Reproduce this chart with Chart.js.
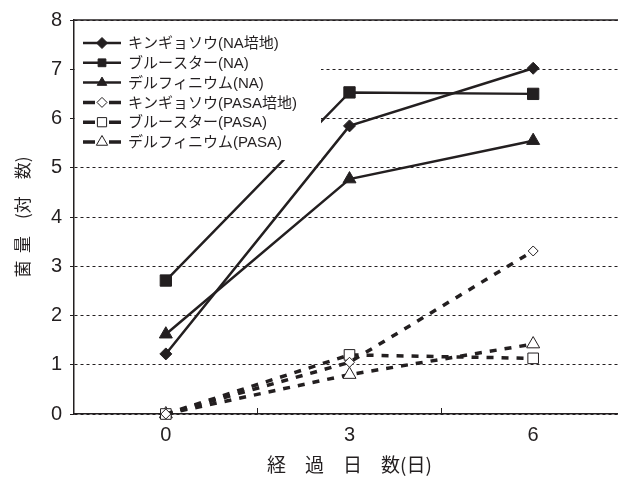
<!DOCTYPE html>
<html>
<head>
<meta charset="utf-8">
<script src="https://cdn.jsdelivr.net/npm/chart.js@4.4.0/dist/chart.umd.min.js"></script>
<style>
  body { margin: 0; overflow: hidden; background: #fff; }
  #wrap { width: 625px; height: 477px; }
</style>
</head>
<body>
<div id="wrap"><canvas id="myChart" width="625" height="477"></canvas></div>
<script>
// days (x categories)
const days = ["0", "3", "6"];
const yTicks = [0, 1, 2, 3, 4, 5, 6, 7, 8];

// NA medium
const kingyoNA = [1.22, 5.85, 7.02];
const blueNA = [2.71, 6.53, 6.50];
const delphNA = [1.62, 4.77, 5.55];
// PASA medium
const kingyoPASA = [0, 1.05, 3.31];
const bluePASA = [0, 1.20, 1.13];
const delphPASA = [0, 0.80, 1.42];

const seriesNames = [
    "キンギョソウ(NA培地)",
    "ブルースター(NA)",
    "デルフィニウム(NA)",
    "キンギョソウ(PASA培地)",
    "ブルースター(PASA)",
    "デルフィニウム(PASA)"
];

const ink = "#231f20";

function solidSet(label, data, style, r) {
    return {
        label: label, data: data,
        borderColor: ink, borderWidth: 2.5,
        pointStyle: style, pointRadius: r, pointHoverRadius: r,
        pointBackgroundColor: ink, pointBorderColor: ink, pointBorderWidth: 1,
        legendRadius: 5.5, dashed: false,
        tension: 0, clip: false
    };
}
function dashSet(label, data, style, r, lr) {
    return {
        label: label, data: data,
        borderColor: ink, borderWidth: 3.5, borderDash: [7, 8],
        pointStyle: style, pointRadius: r, pointHoverRadius: r,
        pointBackgroundColor: "#fff", pointBorderColor: ink, pointBorderWidth: 1,
        legendRadius: lr, dashed: true,
        tension: 0, clip: false
    };
}

// legend drawn inside the plot, covering the lines under it
const boxLegend = {
    id: "boxLegend",
    afterDatasetsDraw(chart) {
        const ctx = chart.ctx;
        const a = chart.chartArea;
        ctx.save();
        ctx.fillStyle = "#fff";
        ctx.fillRect(a.left + 1, a.top + 1, 320 - a.left, 139);
        chart.data.datasets.forEach(function (ds, i) {
            const y = a.top + 23 + i * 19.8;
            ctx.strokeStyle = ink;
            ctx.lineWidth = ds.dashed ? 3.5 : 2.5;
            ctx.setLineDash(ds.dashed ? [12, 14] : []);
            ctx.beginPath();
            ctx.moveTo(83, y);
            ctx.lineTo(121, y);
            ctx.stroke();
            ctx.setLineDash([]);
            ctx.fillStyle = ds.pointBackgroundColor;
            ctx.lineWidth = 1;
            Chart.helpers.drawPoint(ctx, {
                pointStyle: ds.pointStyle, rotation: 0,
                radius: ds.legendRadius, borderWidth: 1
            }, 102, y);
            ctx.fillStyle = ink;
            ctx.font = "15px 'Liberation Sans', 'Noto Sans CJK JP'";
            ctx.textBaseline = "middle";
            ctx.textAlign = "left";
            ctx.fillText(ds.label, 128, y + 1);
        });
        // top frame line of the plot
        ctx.strokeStyle = ink;
        ctx.lineWidth = 1.5;
        ctx.beginPath();
        ctx.moveTo(a.left, a.top);
        ctx.lineTo(a.right, a.top);
        ctx.stroke();
        ctx.restore();
    }
};

const config = {
    type: "line",
    data: {
        labels: days,
        datasets: [
            solidSet(seriesNames[0], kingyoNA, "rectRot", 6),
            solidSet(seriesNames[1], blueNA, "rect", 8),
            solidSet(seriesNames[2], delphNA, "triangle", 7.5),
            dashSet(seriesNames[3], kingyoPASA, "rectRot", 5, 5),
            dashSet(seriesNames[4], bluePASA, "rect", 7.5, 6.5),
            dashSet(seriesNames[5], delphPASA, "triangle", 7.5, 6.5)
        ]
    },
    options: {
        responsive: false,
        animation: false,
        layout: { autoPadding: false, padding: { top: 20, right: 0, left: 0, bottom: 0 } },
        plugins: {
            legend: { display: false },
            tooltip: { enabled: false }
        },
        scales: {
            x: {
                type: "category",
                offset: true,
                grid: {
                    offset: true,
                    drawOnChartArea: false,
                    drawTicks: true,
                    tickLength: -6,
                    tickColor: ink,
                    tickWidth: 1
                },
                border: { display: true, color: ink, width: 1.5 },
                ticks: {
                    color: ink,
                    padding: 15,
                    font: { family: "'Liberation Sans'", size: 20 }
                },
                title: {
                    display: true,
                    text: "経　過　日　数(日)",
                    color: ink,
                    padding: { top: 0, bottom: 1 },
                    font: { family: "'Noto Sans CJK JP'", size: 19 }
                },
                afterFit(scale) { scale.height = 63; }
            },
            y: {
                min: 0,
                max: 8,
                afterBuildTicks(scale) {
                    scale.ticks = yTicks.map(function (v) { return { value: v }; });
                },
                grid: {
                    color: ink,
                    lineWidth: 1,
                    tickLength: 4,
                    tickColor: ink
                },
                border: { display: true, color: ink, width: 1.5, dash: [3, 3] },
                ticks: {
                    color: ink,
                    padding: 8,
                    font: { family: "'Liberation Sans'", size: 20 }
                },
                title: {
                    display: true,
                    text: "菌  量　(対　数)",
                    color: ink,
                    padding: { top: 12, bottom: 0 },
                    font: { family: "'Noto Sans CJK JP'", size: 17 }
                },
                afterFit(scale) { scale.width = 74; }
            }
        }
    },
    plugins: [boxLegend]
};

new Chart(document.getElementById("myChart").getContext("2d"), config);
</script>
</body>
</html>
